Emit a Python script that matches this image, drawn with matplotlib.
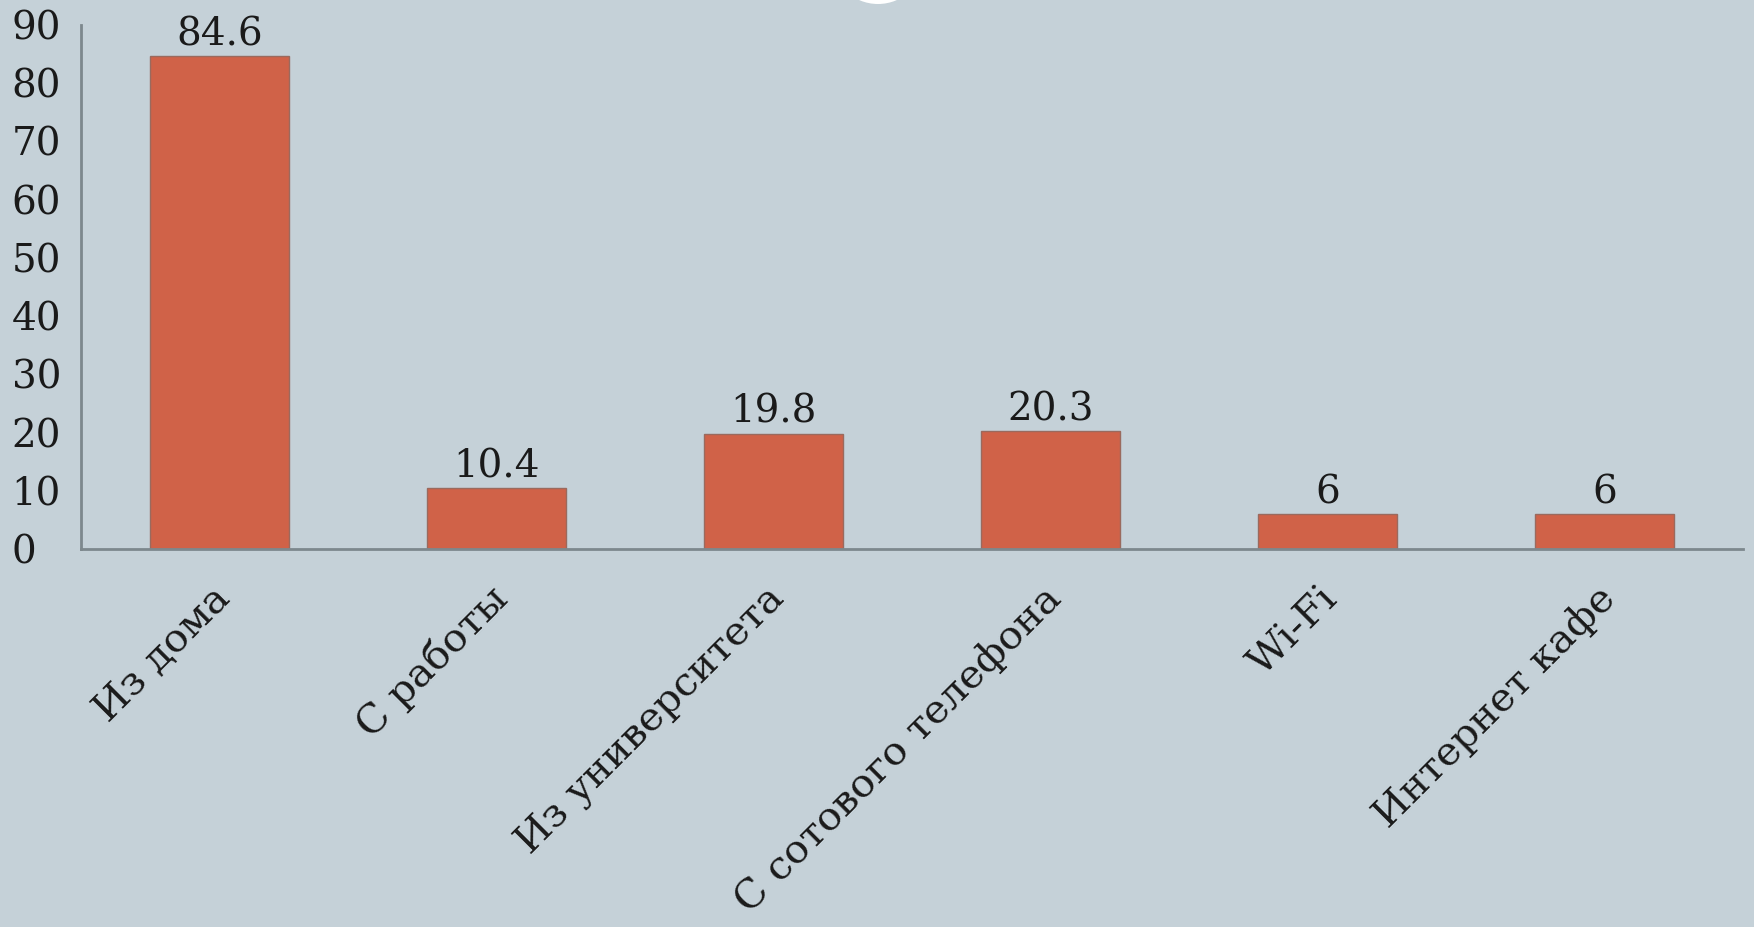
import matplotlib.pyplot as plt
import matplotlib.transforms as mtransforms
from matplotlib.patches import Ellipse

# access locations, percent of respondents
categories = ['Из дома', 'С работы', 'Из университета', 'С сотового телефона', 'Wi-Fi', 'Интернет кафе']
values = [84.6, 10.4, 19.8, 20.3, 6, 6]
value_labels = ['84.6', '10.4', '19.8', '20.3', '6', '6']
yticks = [0, 10, 20, 30, 40, 50, 60, 70, 80, 90]

bg = '#c5d1d8'
bar_color = '#d06248'
axis_color = '#7d888d'

plt.rcParams['font.family'] = ['DejaVu Serif']

fig = plt.figure(figsize=(17.54, 9.27), dpi=100, facecolor=bg)
ax = fig.add_axes([81 / 1754, 1 - 549 / 927, (1743 - 81) / 1754, (549 - 25) / 927])
ax.set_facecolor(bg)

x = range(len(categories))
bars = ax.bar(x, values, width=0.5, color=bar_color, edgecolor='#9a6a5e', linewidth=1)

for xi, v, lab in zip(x, values, value_labels):
    ax.annotate(lab, (xi, v), xytext=(0, 2), textcoords='offset points',
                ha='center', va='bottom', fontsize=28, color='#1a1a1a')

ax.set_xlim(-0.5, 5.5)
ax.set_ylim(0, 90)
ax.set_yticks(yticks)
ax.set_yticklabels([str(t) for t in yticks], fontsize=28, color='#1a1a1a')
for lab in ax.get_yticklabels():
    lab.set_horizontalalignment('left')
ax.tick_params(axis='y', length=0, pad=50)

ax.set_xticks(list(x))
ax.set_xticklabels(categories, rotation=45, ha='right', rotation_mode='anchor',
                   fontsize=29, color='#1a1a1a')
ax.tick_params(axis='x', length=0, pad=22)
shift = mtransforms.ScaledTranslation(-6 / 72, 0, fig.dpi_scale_trans)
for lab in ax.get_xticklabels():
    lab.set_transform(lab.get_transform() + shift)

for s in ['top', 'right']:
    ax.spines[s].set_visible(False)
for s in ['left', 'bottom']:
    ax.spines[s].set_color(axis_color)
    ax.spines[s].set_linewidth(2)

# white circle peeking in at the top edge
fig.patches.append(Ellipse((878 / 1754, 1 + 43 / 927), 94 / 1754, 94 / 927,
                           transform=fig.transFigure, facecolor='white', edgecolor='none'))

fig.savefig('out.png', dpi=100, facecolor=bg)
